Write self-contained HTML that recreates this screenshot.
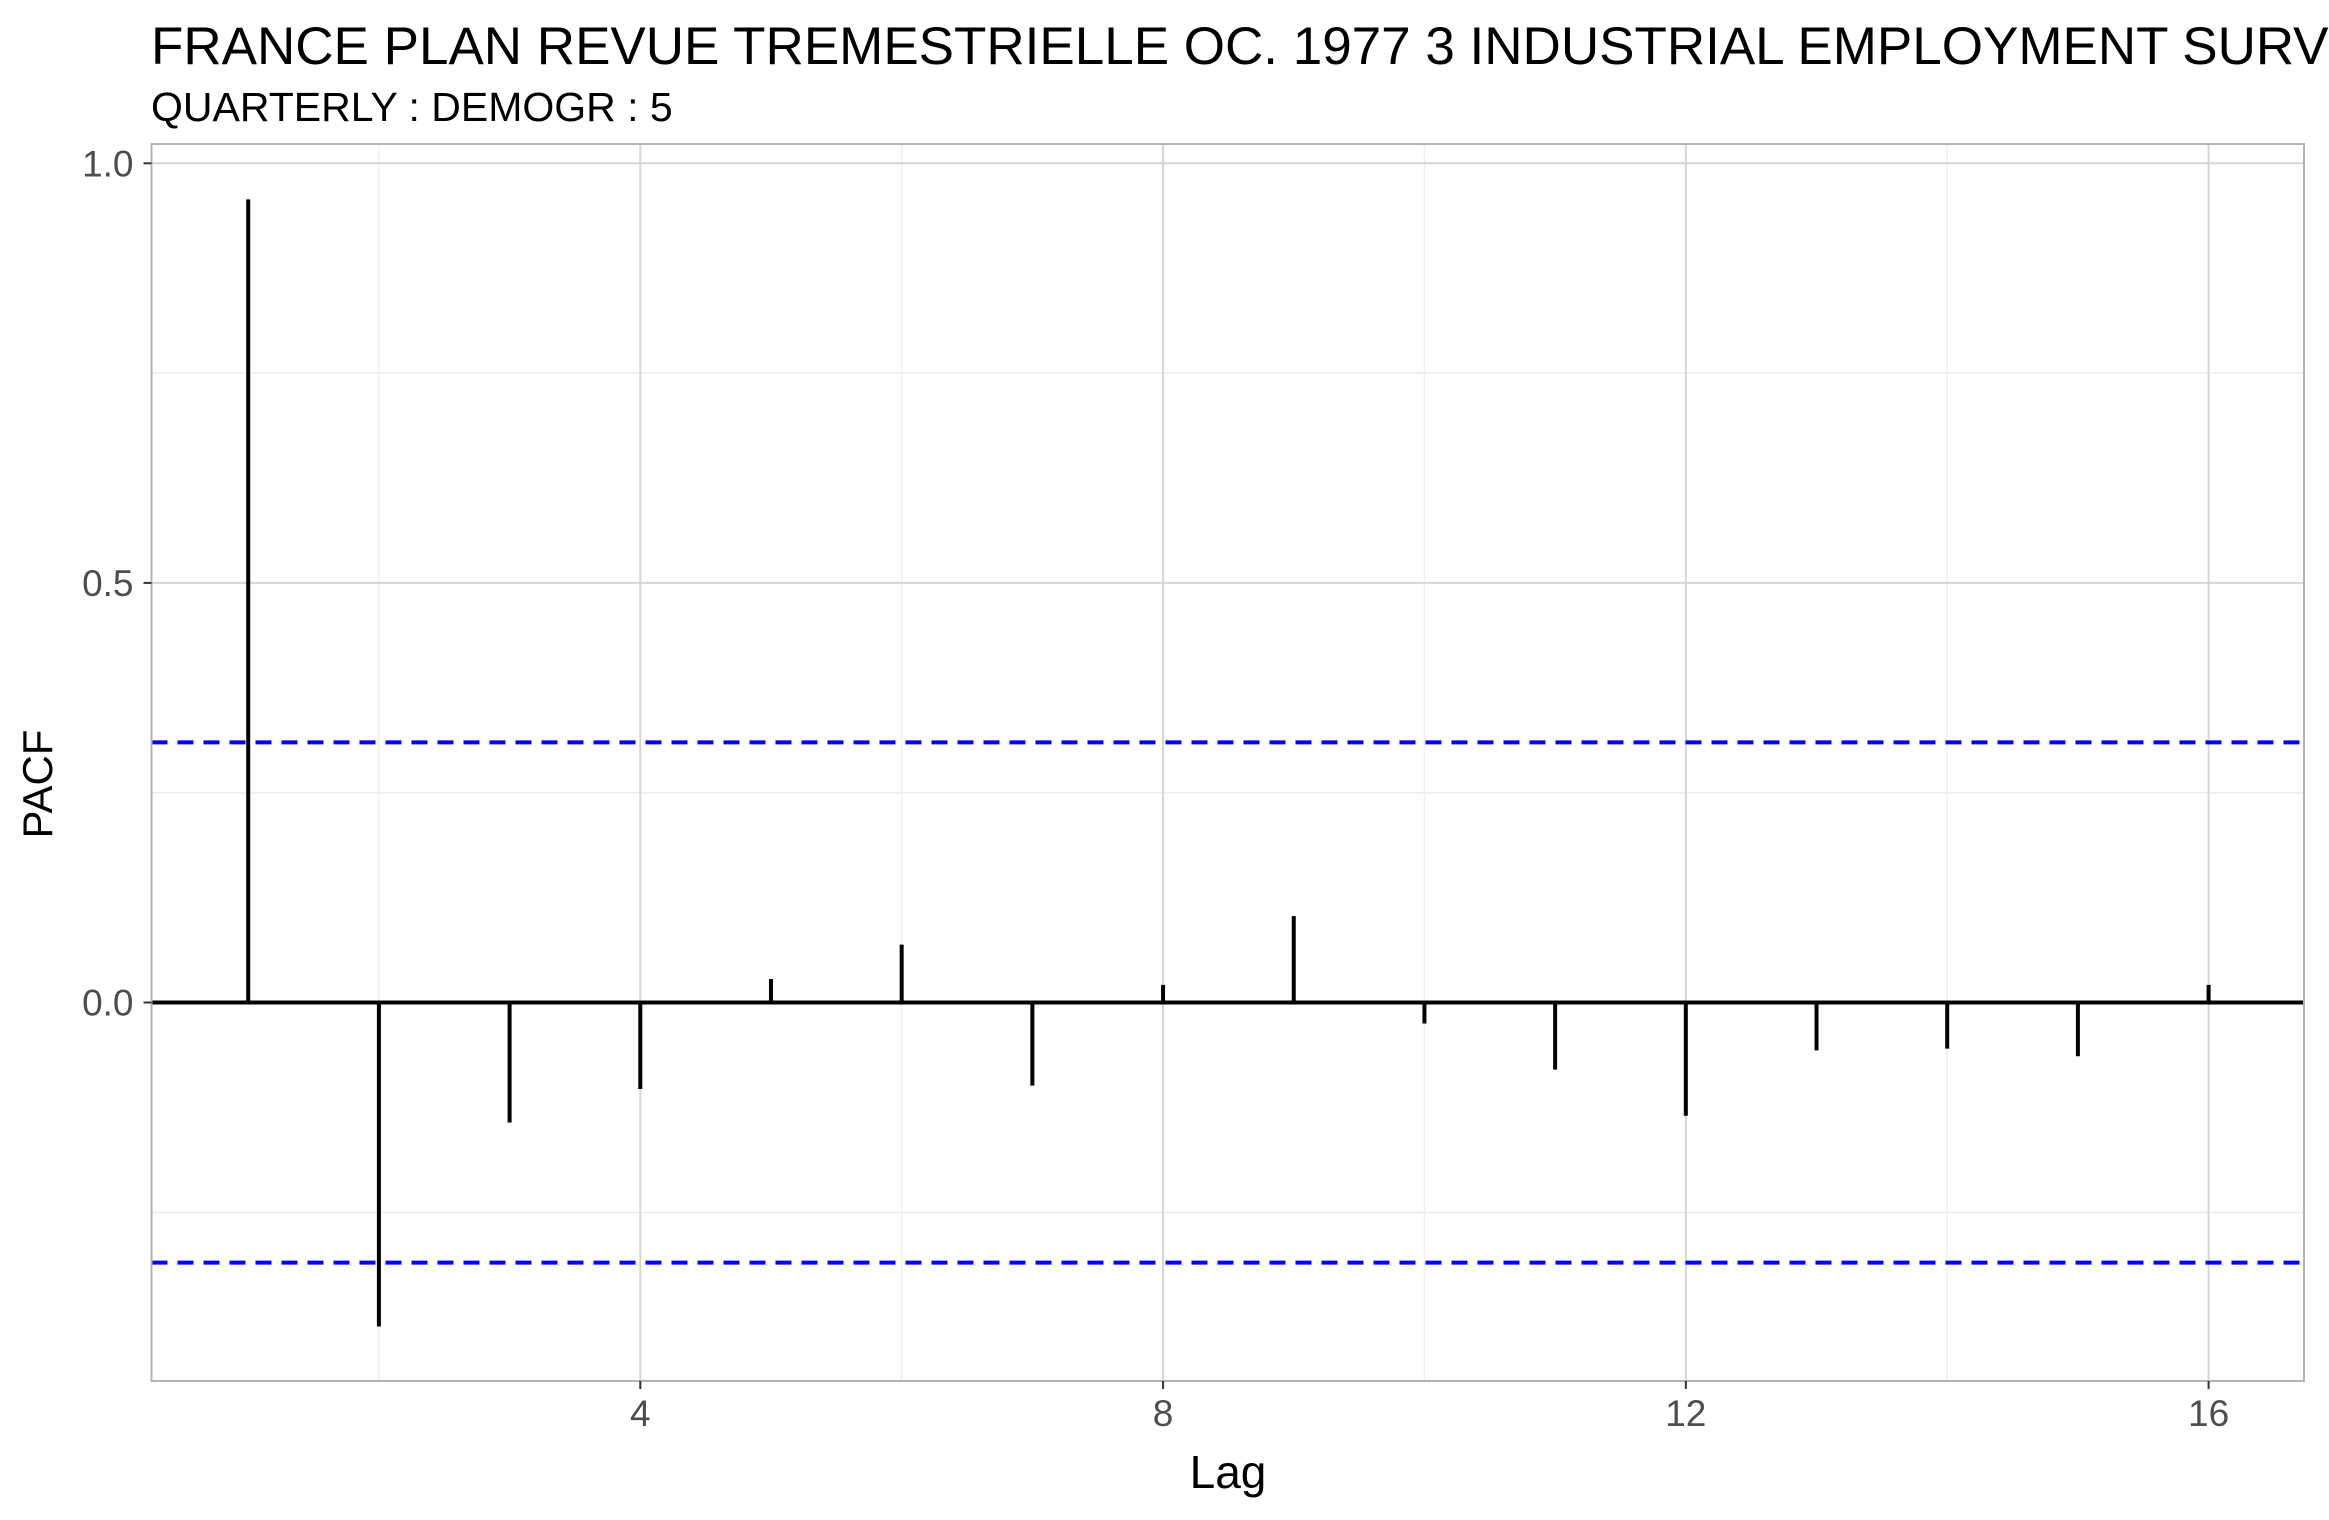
<!DOCTYPE html>
<html><head><meta charset="utf-8"><style>
html,body{margin:0;padding:0;background:#fff;}
svg{display:block;font-family:"Liberation Sans",Arial,sans-serif;}
</style></head><body>
<svg id="chart" width="2329" height="1520" viewBox="0 0 2329 1520" xmlns="http://www.w3.org/2000/svg">
<text x="151" y="64" font-size="53" fill="#000">FRANCE PLAN REVUE TREMESTRIELLE OC. 1977 3 INDUSTRIAL EMPLOYMENT SURVEY</text>
<text x="151" y="121" font-size="41" fill="#000">QUARTERLY : DEMOGR : 5</text>
<g id="grid"></g>
<g id="marks"></g>
<rect x="151.5" y="144" width="2152.5" height="1237" fill="none" stroke="#b3b3b3" stroke-width="2"/>
<g id="axes"></g>
<text x="1228" y="1488" font-size="46" text-anchor="middle" fill="#000">Lag</text>
<text x="0" y="0" font-size="42" text-anchor="middle" fill="#000" transform="translate(52,784) rotate(-90)">PACF</text>
</svg>
<script>
const lags = [1,2,3,4,5,6,7,8,9,10,11,12,13,14,15,16];
const pacfValues = [0.957,-0.386,-0.143,-0.103,0.028,0.069,-0.099,0.021,0.103,-0.025,-0.080,-0.135,-0.057,-0.055,-0.064,0.021];
const ciValue = 0.31;
const yTicks = [0.0,0.5,1.0];
const yTickLabels = ["0.0","0.5","1.0"];
const yMinor = [0.25,0.75,-0.25];
const xTicks = [4,8,12,16];
const xTickLabels = ["4","8","12","16"];
const xMinor = [2,6,10,14];

const PL=151.5, PR=2304, PT=144, PB=1381;
const xMin=0.26, xMax=16.73, yMin=-0.451, yMax=1.023;
const X=v=>PL+(v-xMin)/(xMax-xMin)*(PR-PL);
const Y=v=>PT+(yMax-v)/(yMax-yMin)*(PB-PT);
const NS="http://www.w3.org/2000/svg";
function mk(tag,attrs,parent,text){const e=document.createElementNS(NS,tag);for(const k in attrs)e.setAttribute(k,attrs[k]);if(text!==undefined)e.textContent=text;parent.appendChild(e);return e;}
const grid=document.getElementById('grid'),marks=document.getElementById('marks'),axes=document.getElementById('axes');
yMinor.forEach(v=>{const l=mk('line',{x1:PL,x2:PR,y1:Y(v),y2:Y(v),stroke:'#ebebeb','stroke-width':1.5},grid);

});
xMinor.forEach(v=>{const l=mk('line',{x1:X(v),x2:X(v),y1:PT,y2:PB,stroke:'#f0f0f0','stroke-width':1.5},grid);

});
yTicks.forEach((v,i)=>{const l=mk('line',{x1:PL,x2:PR,y1:Y(v),y2:Y(v),stroke:'#d6d6d6','stroke-width':2},grid);


const t=mk('line',{x1:PL-8,x2:PL,y1:Y(v),y2:Y(v),stroke:'#333','stroke-width':2},axes);


const tx=mk('text',{x:PL-18,y:Y(v)+13,'font-size':37,'text-anchor':'end',fill:'#4d4d4d'},axes,yTickLabels[i]);

});
xTicks.forEach((v,i)=>{const l=mk('line',{x1:X(v),x2:X(v),y1:PT,y2:PB,stroke:'#d6d6d6','stroke-width':2},grid);


const t=mk('line',{x1:X(v),x2:X(v),y1:PB,y2:PB+8,stroke:'#333','stroke-width':2},axes);


const tx=mk('text',{x:X(v),y:PB+45,'font-size':37,'text-anchor':'middle',fill:'#4d4d4d'},axes,xTickLabels[i]);

});
const z=mk('line',{x1:PL,x2:PR,y1:Y(0),y2:Y(0),stroke:'#000','stroke-width':4},marks);


lags.forEach((g,i)=>{const b=mk('line',{x1:X(g),x2:X(g),y1:Y(0),y2:Y(pacfValues[i]),stroke:'#000','stroke-width':4},marks);

});
[ciValue,-ciValue].forEach((c,i)=>{const l=mk('line',{x1:PL,x2:PR,y1:Y(c),y2:Y(c),stroke:'#0000ff','stroke-width':4,'stroke-dasharray':'16 10'},marks);

});
</script>
</body></html>
